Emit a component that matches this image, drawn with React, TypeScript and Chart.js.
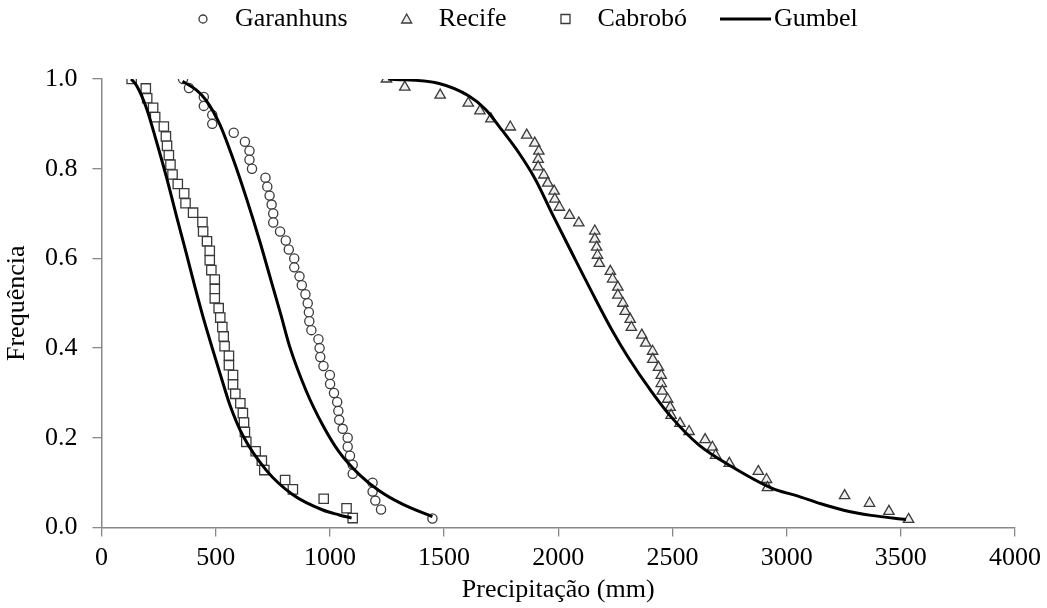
import React, { useEffect, useRef } from 'react';
import { Chart, registerables } from 'chart.js';

Chart.register(...registerables);

const FONT_FAMILY = '"Liberation Serif", "Times New Roman", serif';

// Garanhuns observed
const garanhunsX = [357, 383, 448, 448, 485, 485, 579, 628, 648, 648, 659, 718, 726, 736, 745, 752, 752, 782, 807, 820, 844, 844, 867, 877, 893, 903, 908, 910, 919, 950, 955, 958, 972, 1000, 1001, 1018, 1032, 1037, 1041, 1056, 1078, 1078, 1088, 1100, 1100, 1187, 1187, 1199, 1224, 1449];
const garanhunsF = [1.0, 0.98, 0.96, 0.94, 0.92, 0.9, 0.88, 0.86, 0.84, 0.82, 0.8, 0.78, 0.76, 0.74, 0.72, 0.7, 0.68, 0.66, 0.64, 0.62, 0.6, 0.58, 0.56, 0.54, 0.52, 0.5, 0.48, 0.46, 0.44, 0.42, 0.4, 0.38, 0.36, 0.34, 0.32, 0.3, 0.28, 0.26, 0.24, 0.22, 0.2, 0.18, 0.16, 0.14, 0.12, 0.1, 0.08, 0.06, 0.04, 0.02];

// Recife observed
const recifeX = [1248, 1328, 1483, 1606, 1657, 1705, 1790, 1862, 1897, 1915, 1912, 1912, 1937, 1954, 1982, 1985, 2005, 2049, 2090, 2160, 2160, 2168, 2172, 2180, 2228, 2238, 2261, 2261, 2283, 2293, 2315, 2320, 2366, 2383, 2413, 2414, 2439, 2451, 2451, 2456, 2479, 2490, 2494, 2533, 2573, 2643, 2675, 2689, 2749, 2876, 2912, 2916, 3254, 3363, 3448, 3534];
const recifeF = [1.0, 0.982, 0.964, 0.946, 0.929, 0.911, 0.893, 0.875, 0.857, 0.839, 0.821, 0.804, 0.786, 0.768, 0.75, 0.732, 0.714, 0.696, 0.679, 0.661, 0.643, 0.625, 0.607, 0.589, 0.571, 0.554, 0.536, 0.518, 0.5, 0.482, 0.464, 0.446, 0.429, 0.411, 0.393, 0.375, 0.357, 0.339, 0.321, 0.304, 0.286, 0.268, 0.25, 0.232, 0.214, 0.196, 0.179, 0.161, 0.143, 0.125, 0.107, 0.089, 0.071, 0.054, 0.036, 0.018];

// Cabrobó observed
const cabroboX = [132, 194, 200, 226, 235, 273, 282, 287, 295, 302, 311, 334, 362, 368, 401, 442, 445, 462, 474, 474, 481, 496, 496, 496, 513, 520, 529, 535, 539, 558, 558, 576, 576, 586, 608, 619, 624, 628, 634, 675, 702, 713, 804, 838, 973, 1073, 1100];
const cabroboF = [1.0, 0.979, 0.957, 0.936, 0.915, 0.894, 0.872, 0.851, 0.83, 0.809, 0.787, 0.766, 0.745, 0.723, 0.702, 0.681, 0.66, 0.638, 0.617, 0.596, 0.574, 0.553, 0.532, 0.511, 0.489, 0.468, 0.447, 0.426, 0.404, 0.383, 0.362, 0.34, 0.319, 0.298, 0.277, 0.255, 0.234, 0.213, 0.191, 0.17, 0.149, 0.128, 0.106, 0.085, 0.064, 0.043, 0.021];

// Gumbel fitted curves
const gumbelCabroboX = [130, 154, 197, 241, 285, 328, 372, 410, 450, 488, 530, 561, 619, 721, 838, 969, 1041, 1095];
const gumbelCabroboF = [1.0, 0.985, 0.935, 0.86, 0.78, 0.695, 0.61, 0.535, 0.46, 0.395, 0.325, 0.275, 0.205, 0.128, 0.073, 0.039, 0.028, 0.021];
const gumbelGaranhunsX = [355, 416, 459, 517, 576, 634, 692, 740, 785, 823, 896, 969, 1041, 1129, 1216, 1318, 1449];
const gumbelGaranhunsF = [0.995, 0.975, 0.952, 0.9, 0.822, 0.735, 0.64, 0.555, 0.475, 0.405, 0.305, 0.228, 0.168, 0.118, 0.082, 0.052, 0.024];
const gumbelRecifeX = [1255, 1478, 1609, 1682, 1740, 1828, 1900, 1973, 2060, 2150, 2230, 2308, 2410, 2497, 2614, 2759, 2934, 3050, 3150, 3254, 3370, 3523];
const gumbelRecifeF = [1.0, 0.99, 0.962, 0.932, 0.895, 0.835, 0.776, 0.7, 0.612, 0.522, 0.445, 0.378, 0.302, 0.245, 0.185, 0.136, 0.088, 0.07, 0.053, 0.038, 0.027, 0.018];

const xTicks = [0, 500, 1000, 1500, 2000, 2500, 3000, 3500, 4000];
const yTicks = [0, 0.2, 0.4, 0.6, 0.8, 1.0];

const legendItems = [
  { label: 'Garanhuns', style: 'circle' },
  { label: 'Recife', style: 'triangle' },
  { label: 'Cabrobó', style: 'rect' },
  { label: 'Gumbel', style: 'line' },
];

const pts = (xs: number[], ys: number[]) => xs.map((x, i) => ({ x, y: ys[i] }));

const MARK = '#3a3a3a';

function drawMarker(ctx: CanvasRenderingContext2D, style: string, x: number, y: number) {
  ctx.save();
  ctx.lineWidth = 1.3;
  ctx.strokeStyle = MARK;
  ctx.beginPath();
  if (style === 'circle') {
    ctx.fillStyle = '#fff';
    ctx.arc(x, y, 4, 0, Math.PI * 2);
  } else if (style === 'triangle') {
    ctx.fillStyle = '#eee';
    ctx.moveTo(x, y - 5);
    ctx.lineTo(x + 5, y + 4);
    ctx.lineTo(x - 5, y + 4);
    ctx.closePath();
  } else {
    ctx.fillStyle = '#fff';
    ctx.rect(x - 4.5, y - 4.5, 9, 9);
  }
  ctx.fill();
  ctx.stroke();
  ctx.restore();
}

const legendPlugin = {
  id: 'customLegend',
  afterDraw(chart: any) {
    const ctx: CanvasRenderingContext2D = chart.ctx;
    ctx.save();
    ctx.font = `26px ${FONT_FAMILY}`;
    ctx.fillStyle = '#000';
    ctx.textBaseline = 'middle';
    ctx.textAlign = 'left';
    const y = 19;
    let cursor = 203;
    legendItems.forEach((it) => {
      if (it.style === 'line') {
        const start = cursor - 26;
        ctx.save();
        ctx.strokeStyle = '#000';
        ctx.lineWidth = 3;
        ctx.beginPath();
        ctx.moveTo(start, y);
        ctx.lineTo(start + 51, y);
        ctx.stroke();
        ctx.restore();
        ctx.fillText(it.label, start + 54, y);
      } else {
        drawMarker(ctx, it.style, cursor, y);
        const tx = cursor + 32;
        ctx.fillText(it.label, tx, y);
        cursor = tx + ctx.measureText(it.label).width + 59;
      }
    });
    ctx.restore();
  },
};

export default function App() {
  const ref = useRef<HTMLCanvasElement>(null);
  useEffect(() => {
    document.body.style.margin = '0';
    const font = { family: FONT_FAMILY, size: 26 };
    const pointDs = (label: string, data: any[], style: string, fill: string, radius: number) => ({
      type: 'scatter' as const,
      label,
      data,
      pointStyle: style,
      pointRadius: radius,
      pointBackgroundColor: fill,
      pointBorderColor: MARK,
      pointBorderWidth: 1.3,
      showLine: false,
      order: 2,
    });
    const lineDs = (label: string, data: any[]) => ({
      type: 'line' as const,
      label,
      data,
      borderColor: '#000',
      borderWidth: 3,
      pointRadius: 0,
      fill: false,
      showLine: true,
      cubicInterpolationMode: 'monotone' as const,
      order: 1,
    });
    const chart = new Chart(ref.current!, {
      type: 'scatter',
      data: {
        datasets: [
          pointDs('Garanhuns', pts(garanhunsX, garanhunsF), 'circle', '#fff', 4.6),
          pointDs('Recife', pts(recifeX, recifeF), 'triangle', '#eee', 6),
          pointDs('Cabrobó', pts(cabroboX, cabroboF), 'rect', '#fff', 6.6),
          lineDs('Gumbel', pts(gumbelCabroboX, gumbelCabroboF)),
          lineDs('Gumbel ', pts(gumbelGaranhunsX, gumbelGaranhunsF)),
          lineDs('Gumbel  ', pts(gumbelRecifeX, gumbelRecifeF)),
        ] as any,
      },
      options: {
        responsive: false,
        animation: false,
        layout: { padding: { top: 79, right: 30, left: 0, bottom: 0 } },
        plugins: { legend: { display: false }, tooltip: { enabled: false } },
        scales: {
          x: {
            type: 'linear',
            min: 0,
            max: 4000,
            afterBuildTicks: (s: any) => { s.ticks = xTicks.map((v) => ({ value: v })); },
            afterFit: (s: any) => { s.height = 80.5; },
            ticks: { font, color: '#000', padding: 6, maxRotation: 0, callback: (v: any) => String(v) },
            grid: { drawOnChartArea: false, drawTicks: true, tickLength: 9, color: '#888', lineWidth: 1.3 },
            border: { color: '#888', width: 1.5 },
            title: { display: true, text: 'Precipitação (mm)', font, color: '#000', padding: { top: 0, bottom: 2 } },
          },
          y: {
            type: 'linear',
            min: 0,
            max: 1,
            afterBuildTicks: (s: any) => { s.ticks = yTicks.map((v) => ({ value: v })); },
            afterFit: (s: any) => { s.width = 101.5; },
            ticks: { font, color: '#000', padding: 15, callback: (v: any) => Number(v).toFixed(1) },
            grid: { drawOnChartArea: false, drawTicks: true, tickLength: 9, color: '#888', lineWidth: 1.3 },
            border: { color: '#888', width: 1.5 },
            title: { display: true, text: 'Frequência', font, color: '#000', padding: { top: 2, bottom: 0 } },
          },
        },
      } as any,
      plugins: [legendPlugin],
    });
    return () => chart.destroy();
  }, []);
  return <canvas ref={ref} width={1047} height={608} style={{ display: 'block' }} />;
}
